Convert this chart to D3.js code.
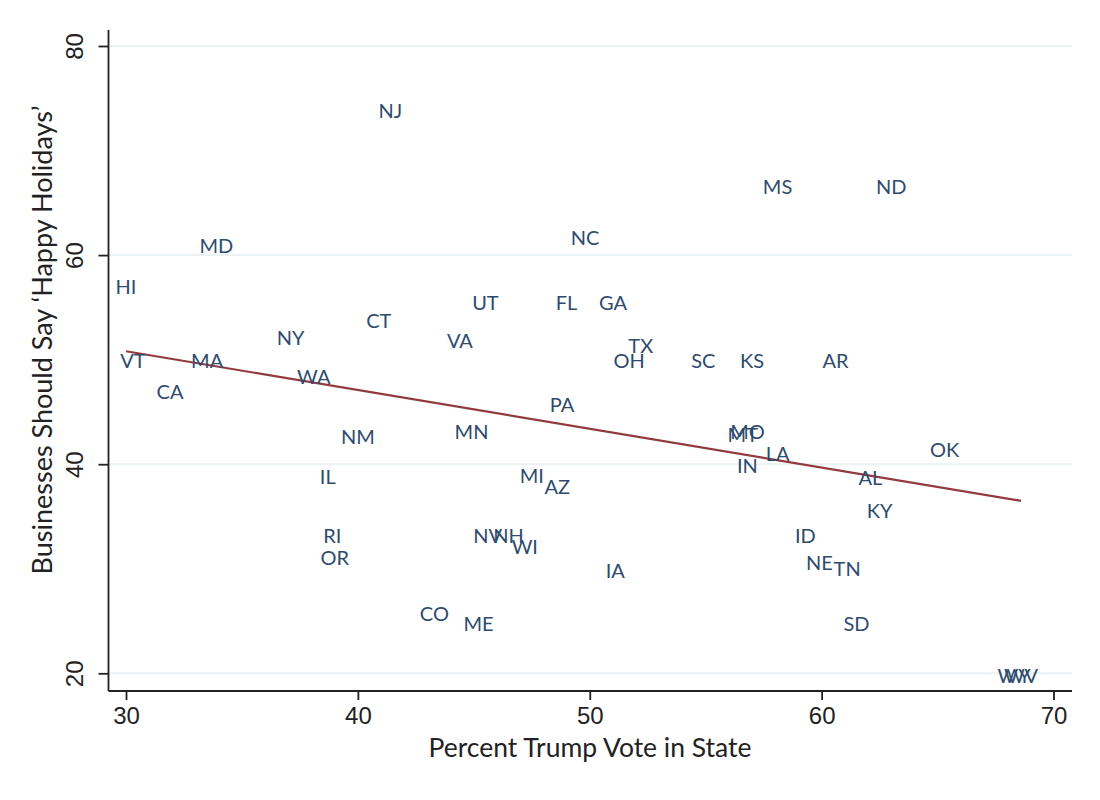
<!DOCTYPE html>
<html><head><meta charset="utf-8">
<script src="https://cdn.jsdelivr.net/npm/d3@7"></script>
<style>body{margin:0;background:#fff}svg{font-family:Lato,"Open Sans",sans-serif}</style>
</head><body><svg width="1100" height="800"></svg>
<script>
const states = ["NJ","MS","ND","MD","NC","HI","UT","FL","GA","CT","NY","VA","TX","VT","MA","OH","SC","KS","AR","WA","CA","PA","NM","MN","MO","MT","OK","LA","IN","IL","MI","AL","AZ","KY","RI","NV","NH","ID","WI","OR","NE","TN","IA","CO","ME","SD","WY","WV"];
const trumpVote = [41.4,58.1,63.0,33.9,49.8,30.0,45.5,49.0,51.0,40.9,37.1,44.4,52.2,30.3,33.5,51.7,54.9,57.0,60.6,38.1,31.9,48.8,40.0,44.9,56.8,56.6,65.3,58.1,56.8,38.7,47.5,62.1,48.6,62.5,38.9,45.6,46.5,59.3,47.2,39.0,59.9,61.1,51.1,43.3,45.2,61.5,68.3,68.6];
const happyHolidays = [73.9,66.6,66.6,61.0,61.7,57.0,55.5,55.5,55.5,53.8,52.2,51.9,51.4,50.0,50.0,50.0,50.0,50.0,50.0,48.4,47.0,45.8,42.7,43.2,43.2,42.9,41.5,41.1,39.9,38.9,39.0,38.8,37.9,35.6,33.2,33.2,33.2,33.2,32.2,31.1,30.6,30.1,29.9,25.8,24.8,24.8,19.8,19.8];
const fitX = [30.0, 68.6];
const fitY = [50.8, 36.5];
const xTicks = [30,40,50,60,70];
const yTicks = [20,40,60,80];

const svg = d3.select("svg");
const x = d3.scaleLinear().domain([30,70]).range([126,1053.5]);
const y = d3.scaleLinear().domain([20,80]).range([673.3,46]);
const pLeft = 108.5, pRight = 1072, pTop = 30, pBottom = 691;

// grid
svg.append("g").selectAll("line").data(yTicks).join("line")
  .attr("x1",pLeft).attr("x2",pRight).attr("y1",d=>y(d)).attr("y2",d=>y(d))
  .attr("stroke","#eaf2f3").attr("stroke-width",2);

// fit line
svg.append("line").attr("x1",x(fitX[0])).attr("y1",y(fitY[0])).attr("x2",x(fitX[1])).attr("y2",y(fitY[1]))
  .attr("stroke","#903a3e").attr("stroke-width",2.2);

// labels
svg.append("g").selectAll("text").data(states).join("text")
  .attr("x",(d,i)=>x(trumpVote[i])).attr("y",(d,i)=>y(happyHolidays[i]))
  .attr("text-anchor","middle").attr("dominant-baseline","central")
  .attr("font-size",20).attr("fill","#2e4b6e").text(d=>d);

// axes
const xa = svg.append("g").attr("transform",`translate(0,${pBottom})`)
  .call(d3.axisBottom(x).tickValues(xTicks).tickSize(9).tickPadding(7));
xa.select(".domain").attr("d",`M${pLeft},0H${pRight}`);
const ya = svg.append("g").attr("transform",`translate(${pLeft},0)`)
  .call(d3.axisLeft(y).tickValues(yTicks).tickSize(10));
ya.select(".domain").attr("d",`M0,${pTop}V${pBottom}`);
[xa,ya].forEach(a=>{
  a.selectAll(".domain,line").attr("stroke","#222").attr("stroke-width",1.8);
  a.selectAll("text").attr("font-size",24).attr("fill","#222");
});
ya.selectAll(".tick text").attr("x",0).attr("dy",0).attr("text-anchor","middle")
  .attr("transform","translate(-26,0) rotate(-90)");

// titles
svg.append("text").attr("x",590).attr("y",757).attr("text-anchor","middle")
  .attr("font-size",26.5).attr("fill","#222").text("Percent Trump Vote in State");
svg.append("text").attr("transform","translate(52,340) rotate(-90)").attr("text-anchor","middle")
  .attr("font-size",27).attr("fill","#222").text("Businesses Should Say ‘Happy Holidays’");
</script></body></html>
